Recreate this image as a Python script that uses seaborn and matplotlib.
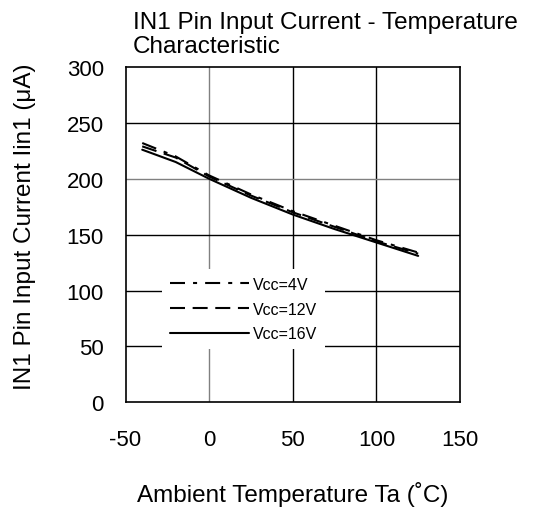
import matplotlib
matplotlib.use("Agg")
import matplotlib.pyplot as plt
import seaborn as sns
import pandas as pd

temps = [-40, -20, 0, 25, 50, 75, 100, 125]
vcc4 = [232, 220, 203, 186, 171, 158, 145, 134]
vcc12 = [229, 219, 202, 185, 170, 157, 144, 133]
vcc16 = [226, 215, 200, 183, 168, 155, 143, 131]
series_names = ["Vcc=4V", "Vcc=12V", "Vcc=16V"]
x_ticks = [-50, 0, 50, 100, 150]
y_ticks = [0, 50, 100, 150, 200, 250, 300]

sns.set_theme(style="white")
plt.rcParams["font.family"] = ["Liberation Sans", "DejaVu Sans"]
plt.rcParams["lines.scale_dashes"] = False
plt.rcParams["axes.unicode_minus"] = False
plt.rcParams["text.color"] = "black"
plt.rcParams["axes.labelcolor"] = "black"

rows = []
for name, vals in zip(series_names, [vcc4, vcc12, vcc16]):
    for t, v in zip(temps, vals):
        rows.append({"T": t, "I": v, "Vcc": name})
df = pd.DataFrame(rows)

W, H = 536, 510
L, R, T, B = 125.5, 460, 68, 403.3
fig = plt.figure(figsize=(W / 100, H / 100), dpi=100)
ax = fig.add_axes([L / W, 1 - B / H, (R - L) / W, (B - T) / H])

# grid
for xv in [0, 50, 100]:
    ax.axvline(xv, color="#808080" if xv == 0 else "black", lw=1.0, zorder=1)
for yv in [50, 100, 150, 200, 250]:
    ax.axhline(yv, color="#808080" if yv == 200 else "black", lw=1.0, zorder=1)

dashes = {"Vcc=4V": (10.8, 5.8, 2.9, 5.8), "Vcc=12V": (10.8, 5.5), "Vcc=16V": ""}
sns.lineplot(data=df, x="T", y="I", style="Vcc", dashes=dashes, color="black",
             lw=1.5, ax=ax, zorder=3, style_order=series_names)

ax.set_xlim(-50, 150)
ax.set_ylim(0, 300)
ax.set_xticks(x_ticks)
ax.set_yticks(y_ticks)
ax.tick_params(axis="both", direction="in", length=5, width=1, colors="black",
               labelsize=16)
ax.tick_params(axis="x", pad=19)
ax.tick_params(axis="y", pad=15.5)
for s in ax.spines.values():
    s.set_color("black")
    s.set_linewidth(1.2)

ax.set_xlabel("Ambient Temperature Ta (˚C)", fontsize=17.5, color="black")
ax.xaxis.set_label_coords(0.5, (B - 482) / (B - T))
ax.set_ylabel("IN1 Pin Input Current Iin1 (μA)", fontsize=17.5, color="black")
ax.yaxis.set_label_coords((36 - L) / (R - L), (B - 227) / (B - T))
ax.set_title("IN1 Pin Input Current - Temperature\nCharacteristic", fontsize=17.5,
             loc="left", x=(133 - L) / (R - L), pad=11, linespacing=1.1, color="black")

leg = ax.legend(loc="upper left", bbox_to_anchor=((162 - L) / (R - L), (B - 270) / (B - T)),
                fontsize=11.5, frameon=True, facecolor="white", edgecolor="white",
                framealpha=1, handlelength=4.95, handletextpad=0.25, labelspacing=0.6,
                borderpad=0.5, borderaxespad=0, fancybox=False, title=None)
leg.get_frame().set_linewidth(0)
leg.set_zorder(2)
for l in leg.get_lines():
    l.set_linewidth(1.5)
for t in leg.get_texts():
    t.set_color("black")

fig.savefig("out.png", dpi=100)
